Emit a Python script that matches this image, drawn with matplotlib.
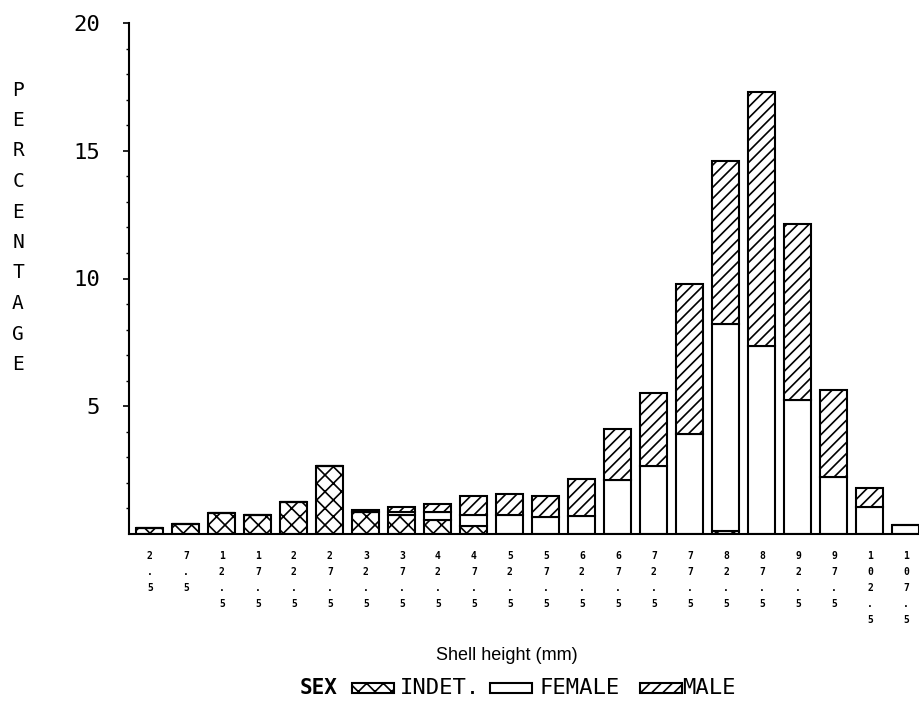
"""Shell height frequency by sex, stacked bars (indet / female / male)."""
import matplotlib
matplotlib.use('Agg')
import matplotlib.pyplot as plt
from matplotlib.patches import Rectangle
import numpy as np

# Shell height class midpoints (mm)
heights = ['2.5', '7.5', '12.5', '17.5', '22.5', '27.5', '32.5', '37.5', '42.5',
           '47.5', '52.5', '57.5', '62.5', '67.5', '72.5', '77.5', '82.5', '87.5',
           '92.5', '97.5', '102.5', '107.5']

# Percentages
indet = [0.22, 0.39, 0.81, 0.73, 1.27, 2.68, 0.88, 0.75, 0.55, 0.31, 0.0,
         0.0, 0.0, 0.0, 0.0, 0.0, 0.1, 0.0, 0.0, 0.0, 0.0, 0.0]
female = [0.0, 0.0, 0.0, 0.0, 0.0, 0.0, 0.0, 0.12, 0.31, 0.43, 0.75,
          0.68, 0.72, 2.1, 2.65, 3.9, 8.1, 7.35, 5.25, 2.25, 1.05, 0.35]
male = [0.0, 0.0, 0.0, 0.0, 0.0, 0.0, 0.06, 0.18, 0.33, 0.74, 0.8,
        0.8, 1.45, 2.0, 2.85, 5.9, 6.4, 9.95, 6.9, 3.4, 0.75, 0.0]

plt.rcParams['hatch.linewidth'] = 1.2
plot_font = 'DejaVu Sans Mono'

W, H = 920, 711
fig = plt.figure(figsize=(W / 100, H / 100), dpi=100)
ax = fig.add_axes([129 / W, 177 / H, 791 / W, 511 / H])

x = np.arange(len(heights))
indet = np.array(indet)
female = np.array(female)
male = np.array(male)
width = 0.75
bar_kw = dict(width=width, edgecolor='black', linewidth=1.5)

ax.bar(x, indet, color='white', hatch='xx', **bar_kw)
ax.bar(x, female, bottom=indet, color='white', **bar_kw)
ax.bar(x, male, bottom=indet + female, color='white', hatch='///', **bar_kw)

ax.set_xlim(-0.58, 21.39)
ax.set_ylim(0, 20)

for side in ['top', 'right']:
    ax.spines[side].set_visible(False)
ax.spines['left'].set_linewidth(1.5)
ax.spines['bottom'].set_linewidth(1.5)

ax.set_yticks([5, 10, 15, 20])
ax.set_yticklabels(['5', '10', '15', '20'], fontsize=16, family=plot_font)
ax.set_yticks(np.arange(1, 20), minor=True)
ax.tick_params(axis='y', which='major', length=4, width=1.2, pad=17)
ax.tick_params(axis='y', which='minor', length=2, width=1.0)

ax.set_xticks(x)
ax.set_xticklabels(['\n'.join(list(h)) for h in heights], fontsize=7,
                   fontweight='bold', family=plot_font, linespacing=1.75, va='top')
ax.tick_params(axis='x', length=0, pad=12)

# vertical stacked y label
ylab = 'PERCENTAGE'
for i, ch in enumerate(ylab):
    fig.text(18 / W, 1 - (90 + i * 30.5) / H, ch, fontsize=14, family=plot_font,
             ha='center', va='center')

fig.text(507 / W, 1 - 655 / H, 'Shell height (mm)', fontsize=13,
         family='Liberation Sans', ha='center', va='center')

# legend row
ly = 1 - 688 / H
fig.text(300 / W, ly, 'SEX', fontsize=15, family=plot_font, fontweight='bold',
         ha='left', va='center')
legend_items = [
    (352, 'xx', 'INDET.', 400),
    (490, '', 'FEMALE', 540),
    (640, '///', 'MALE', 682),
]
for px, hatch, label, tx in legend_items:
    fig.add_artist(Rectangle((px / W, 1 - 693 / H), 42 / W, 10 / H,
                             transform=fig.transFigure, facecolor='white',
                             edgecolor='black', linewidth=1.5, hatch=hatch))
    fig.text(tx / W, ly, label, fontsize=16, family=plot_font,
             ha='left', va='center')

plt.savefig('out.png', dpi=100)
